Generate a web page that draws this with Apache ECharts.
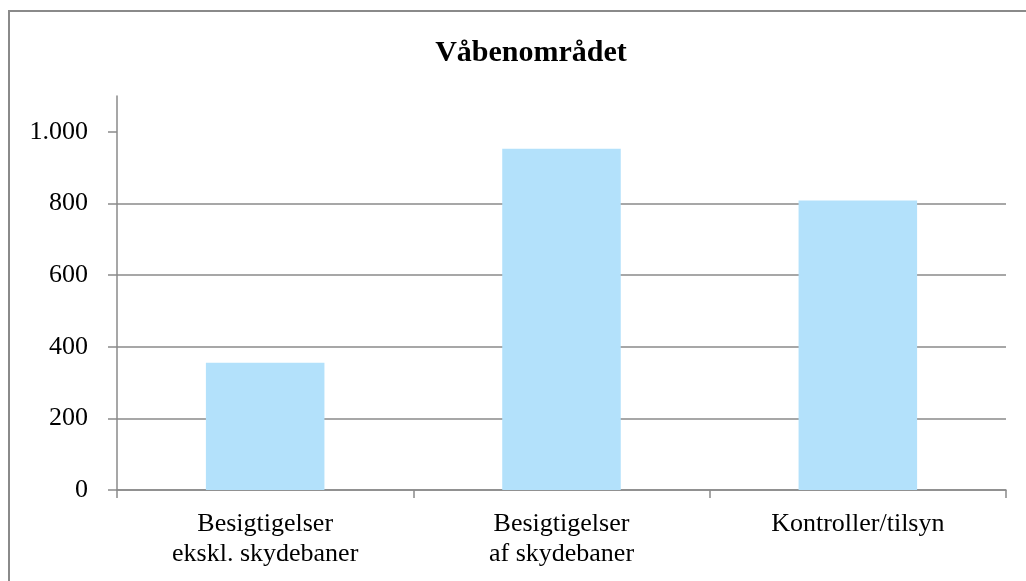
<!DOCTYPE html>
<html>
<head>
<meta charset="utf-8">
<script src="https://cdn.jsdelivr.net/npm/echarts@6/dist/echarts.min.js"></script>
<style>
  html, body { margin:0; padding:0; background:#fff; }
  #chart { width:1026px; height:581px; }
</style>
</head>
<body>
<div id="chart"></div>
<script>
// data
const title      = 'Våbenområdet'
const categories = ['Besigtigelser\nekskl. skydebaner', 'Besigtigelser\naf skydebaner', 'Kontroller/tilsyn']
const values     = [355, 953, 808]
const yTicks     = [0, 200, 400, 600, 800, 1000]
const yMax       = 1100

const serif = '"Liberation Serif", "Times New Roman", serif'
const gray  = '#8a8a8a'

const chart = echarts.init(document.getElementById('chart'))
chart.setOption({
  animation: false,
  backgroundColor: '#fff',
  title: {
    text: title,
    left: 526,
    top: 33,
    textAlign: 'center',
    textStyle: { fontFamily: serif, fontSize: 30, fontWeight: 'bold', color: '#000' }
  },
  // outer frame (only left and top edges fall inside the picture)
  graphic: [
    { type: 'line', shape: { x1: 9, y1: 11, x2: 9, y2: 600 }, style: { stroke: gray, lineWidth: 2 }, silent: true },
    { type: 'line', shape: { x1: 8, y1: 11, x2: 1040, y2: 11 }, style: { stroke: gray, lineWidth: 2 }, silent: true }
  ],
  grid: { left: 117, right: 20, top: 96, bottom: 91 },
  xAxis: {
    type: 'category',
    data: categories,
    boundaryGap: true,
    axisLine: { lineStyle: { color: gray, width: 1.5 } },
    axisTick: { show: true, alignWithLabel: false, length: 8, lineStyle: { color: gray, width: 1.5 } },
    axisLabel: { color: '#000', fontFamily: serif, fontSize: 26, lineHeight: 30, margin: 19 }
  },
  yAxis: {
    type: 'value',
    min: 0, max: yMax, interval: 200,
    axisLine: { show: true, lineStyle: { color: gray, width: 1.5 } },
    axisTick: { show: true, inside: false, length: 9, customValues: yTicks, lineStyle: { color: gray, width: 1.5 } },
    splitLine: { show: true, showMaxLine: false, lineStyle: { color: gray, width: 1.5 } },
    axisLabel: {
      color: '#000', fontFamily: serif, fontSize: 26, margin: 29,
      customValues: yTicks,
      formatter: v => v >= 1000 ? Math.floor(v / 1000) + '.' + String(v % 1000).padStart(3, '0') : String(v)
    }
  },
  series: [{
    type: 'bar',
    data: values,
    barWidth: '40%',
    itemStyle: { color: '#b3e1fb' }
  }]
})
</script>
</body>
</html>
